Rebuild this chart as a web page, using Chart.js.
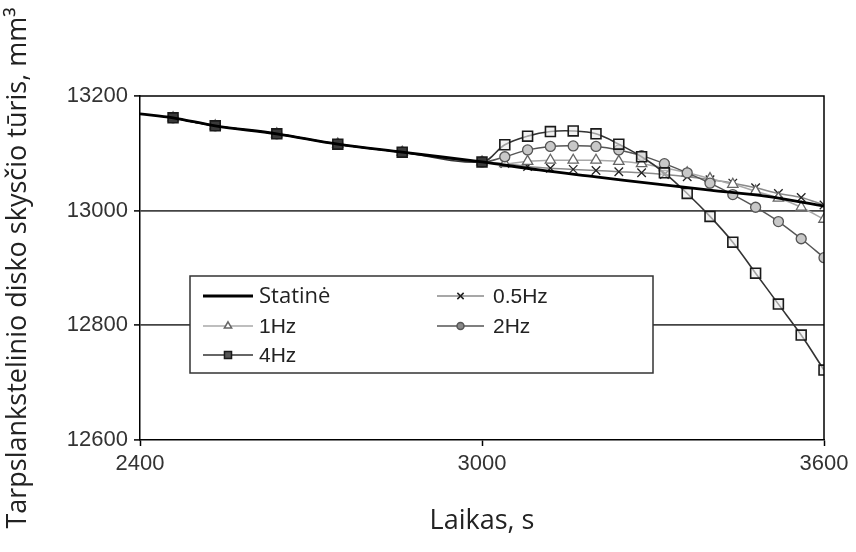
<!DOCTYPE html>
<html><head><meta charset="utf-8">
<script src="https://cdn.jsdelivr.net/npm/chart.js@4.4.0/dist/chart.umd.min.js"></script>
<style>html,body{margin:0;padding:0;background:#fff}#wrap{width:856px;height:552px;position:relative}</style>
</head><body><div id="wrap"><canvas id="c" width="856" height="552"></canvas></div>
<script>
// ---- data ----
const timeStatic = [2400, 2458, 2532, 2640, 2747, 2860, 3000, 3100, 3200, 3300, 3400, 3500, 3600];
const valStatic  = [13169, 13162, 13148, 13134, 13116, 13102, 13085, 13071, 13059, 13047, 13036, 13025, 13008];

const timeHz = [2458, 2532, 2640, 2747, 2860, 3000, 3040, 3080, 3120, 3160, 3200, 3240, 3280, 3320, 3360, 3400, 3440, 3480, 3520, 3560, 3600];
const val05Hz = [13162, 13148, 13134, 13116, 13102, 13085, 13082, 13077, 13074, 13072, 13070, 13068, 13066, 13063, 13059, 13054, 13048, 13040, 13030, 13023, 13010];
const val1Hz  = [13162, 13148, 13134, 13116, 13102, 13085, 13082, 13086, 13088, 13088, 13088, 13086, 13082, 13075, 13066, 13056, 13046, 13034, 13022, 13006, 12985];
const val2Hz  = [13162, 13148, 13134, 13116, 13102, 13085, 13094, 13106, 13112, 13113, 13112, 13106, 13096, 13082, 13066, 13048, 13028, 13006, 12981, 12951, 12918];
const val4Hz  = [13162, 13148, 13134, 13116, 13102, 13085, 13115, 13130, 13138, 13139, 13134, 13116, 13094, 13066, 13030, 12990, 12945, 12891, 12837, 12783, 12722];

const seriesLabels = ['Statinė', '0.5Hz', '1Hz', '2Hz', '4Hz'];
const xTicks = [2400, 3000, 3600];
const yTicks = [12600, 12800, 13000, 13200];
const gridValues = [12800, 13000];
const loadStart = 3000;
const xTitle = 'Laikas, s';
const yTitle = 'Tarpslankstelinio disko skysčio tūris, mm³';

const pts = (xs, ys) => xs.map((x, i) => ({x: x, y: ys[i]}));

// ---- marker drawing for custom legend ----
function drawMarker(ctx, style, x, y, r, fill, stroke, lw) {
  ctx.save();
  ctx.lineWidth = lw; ctx.strokeStyle = stroke; ctx.fillStyle = fill;
  ctx.beginPath();
  if (style === 'crossRot') {
    const d = r * 0.75;
    ctx.moveTo(x - d, y - d); ctx.lineTo(x + d, y + d);
    ctx.moveTo(x - d, y + d); ctx.lineTo(x + d, y - d);
    ctx.stroke();
  } else if (style === 'triangle') {
    ctx.moveTo(x, y - r); ctx.lineTo(x + r * 0.87, y + r * 0.5); ctx.lineTo(x - r * 0.87, y + r * 0.5); ctx.closePath();
    ctx.fill(); ctx.stroke();
  } else if (style === 'circle') {
    ctx.arc(x, y, r, 0, Math.PI * 2); ctx.fill(); ctx.stroke();
  } else if (style === 'rect') {
    const s = r * 0.72;
    ctx.rect(x - s, y - s, 2 * s, 2 * s); ctx.fill(); ctx.stroke();
  }
  ctx.restore();
}

const framePlugin = {
  id: 'frame',
  afterDatasetsDraw(chart) {
    const {ctx, chartArea: a} = chart;
    ctx.save();
    ctx.strokeStyle = '#000'; ctx.lineWidth = 1.5;
    ctx.beginPath();
    ctx.moveTo(a.left, a.top); ctx.lineTo(a.right, a.top); ctx.lineTo(a.right, a.bottom);
    ctx.stroke();
    ctx.restore();
  }
};

const boxLegend = {
  id: 'boxLegend',
  afterDatasetsDraw(chart, args, o) {
    const ctx = chart.ctx;
    ctx.save();
    ctx.fillStyle = '#fff';
    ctx.fillRect(o.box[0], o.box[1], o.box[2], o.box[3]);
    ctx.strokeStyle = '#333'; ctx.lineWidth = 1.5;
    ctx.strokeRect(o.box[0], o.box[1], o.box[2], o.box[3]);
    o.entries.forEach(e => {
      const ds = chart.data.datasets[e.ds];
      const y = o.rows[e.row];
      const x0 = o.sampleStart[e.col], x1 = o.sampleEnd[e.col];
      ctx.strokeStyle = ds.borderColor; ctx.lineWidth = ds.borderWidth;
      ctx.beginPath(); ctx.moveTo(x0, y); ctx.lineTo(x1, y); ctx.stroke();
      if (ds.pointStyle && ds.pointRadius > 0) {
        drawMarker(ctx, ds.pointStyle, (x0 + x1) / 2, y, ds.pointRadius * 0.7, e.fill, ds.pointBorderColor, 1.5);
      }
      ctx.fillStyle = '#222';
      ctx.font = e.font;
      ctx.textBaseline = 'middle';
      ctx.fillText(ds.label, o.textX[e.col], y + 1);
    });
    ctx.restore();
  }
};

const fillBy = (early, late) => c => (c.raw && c.raw.x <= loadStart) ? early : late;

const ctx = document.getElementById('c').getContext('2d');
new Chart(ctx, {
  type: 'line',
  data: {
    datasets: [
      {label: seriesLabels[0], data: pts(timeStatic, valStatic), borderColor: '#000', borderWidth: 2.8, pointRadius: 0, pointStyle: false, order: 0},
      {label: seriesLabels[1], data: pts(timeHz, val05Hz), borderColor: '#8a8a8a', borderWidth: 1.5, pointStyle: 'crossRot', pointRadius: 6, pointBorderColor: '#222', pointBackgroundColor: '#222', pointBorderWidth: 1.3, order: 4},
      {label: seriesLabels[2], data: pts(timeHz, val1Hz), borderColor: '#a8a8a8', borderWidth: 1.5, pointStyle: 'triangle', pointRadius: 6, pointBorderColor: '#666', pointBackgroundColor: '#fff', pointBorderWidth: 1.3, order: 3},
      {label: seriesLabels[3], data: pts(timeHz, val2Hz), borderColor: '#555', borderWidth: 1.5, pointStyle: 'circle', pointRadius: 5, pointBorderColor: '#555', pointBackgroundColor: '#c8c8c8', pointBorderWidth: 1.3, order: 2},
      {label: seriesLabels[4], data: pts(timeHz, val4Hz), borderColor: '#333', borderWidth: 1.6, pointStyle: 'rect', pointRadius: 7, pointBorderColor: '#1a1a1a', pointBackgroundColor: fillBy('#3a3a3a', 'rgba(235,235,235,0.6)'), pointBorderWidth: 1.6, order: 1}
    ]
  },
  options: {
    responsive: false,
    animation: false,
    devicePixelRatio: 1,
    layout: {padding: {top: 96, right: 32, left: 0, bottom: 0}},
    elements: {line: {tension: 0.35}},
    plugins: {
      legend: {display: false},
      tooltip: {enabled: false},
      boxLegend: {
        box: [190, 276, 463, 97],
        rows: [296, 326, 355],
        sampleStart: [203, 437],
        sampleEnd: [253, 484],
        textX: [259, 493],
        entries: [
          {ds: 0, col: 0, row: 0, font: '22px "Open Sans"'},
          {ds: 1, col: 1, row: 0, font: '21px "Liberation Sans"', fill: '#222'},
          {ds: 2, col: 0, row: 1, font: '21px "Liberation Sans"', fill: '#fff'},
          {ds: 3, col: 1, row: 1, font: '21px "Liberation Sans"', fill: '#888'},
          {ds: 4, col: 0, row: 2, font: '21px "Liberation Sans"', fill: '#555'}
        ]
      }
    },
    scales: {
      x: {
        type: 'linear', min: xTicks[0], max: xTicks[xTicks.length - 1],
        afterBuildTicks: s => { s.ticks = xTicks.map(v => ({value: v})); },
        afterFit: s => { s.height = 112; },
        grid: {drawOnChartArea: false, drawTicks: true, tickLength: 6, tickColor: '#000', tickWidth: 1.5},
        border: {display: true, color: '#000', width: 1.5},
        ticks: {color: '#333', font: {family: '"Liberation Sans"', size: 22}, padding: 5, maxRotation: 0, callback: v => String(v)},
        title: {display: true, text: xTitle, color: '#222', font: {family: '"Open Sans"', size: 27}, padding: {top: 0, bottom: 14}}
      },
      y: {
        type: 'linear', min: yTicks[0], max: yTicks[yTicks.length - 1],
        afterBuildTicks: s => { s.ticks = yTicks.map(v => ({value: v})); },
        afterFit: s => { s.width = 140; },
        grid: {
          drawTicks: true, tickLength: 6, tickColor: '#000', tickWidth: 1.5,
          color: c => (c.tick && gridValues.includes(c.tick.value)) ? '#444' : 'rgba(0,0,0,0)',
          lineWidth: 1.8
        },
        border: {display: true, color: '#000', width: 1.5},
        ticks: {color: '#333', font: {family: '"Liberation Sans"', size: 22}, padding: 6, callback: v => String(v)},
        title: {display: true, text: yTitle, color: '#222', font: {family: '"Open Sans"', size: 27}, padding: {top: 2, bottom: 0}}
      }
    }
  },
  plugins: [framePlugin, boxLegend]
});
</script>
</body></html>
